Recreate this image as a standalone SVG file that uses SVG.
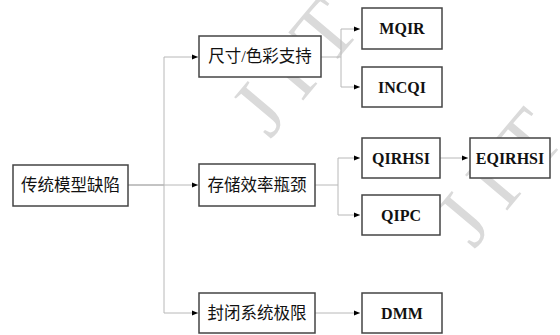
<svg xmlns="http://www.w3.org/2000/svg" width="560" height="335" viewBox="0 0 560 335">
<defs>
<marker id="ah" markerUnits="userSpaceOnUse" markerWidth="6" markerHeight="6" refX="6" refY="3" orient="auto">
<path d="M0,0.5 L6,3 L0,5.5 Z" fill="#000"/>
</marker>
<style>
.box{fill:#fff;stroke:#444;stroke-width:1.5}
.zh{font-family:"Liberation Serif","Noto Sans CJK SC",serif;font-size:16.5px;fill:#111;text-anchor:middle;dominant-baseline:central}
.en{font-family:"Liberation Serif",serif;font-weight:bold;font-size:16px;fill:#111;text-anchor:middle;dominant-baseline:central}
.ln{fill:none;stroke:#b8b8b8;stroke-width:1}
.ar{fill:none;stroke:#b8b8b8;stroke-width:1;marker-end:url(#ah)}
.wm{font-family:"Liberation Serif",serif;font-size:84px;fill:#dadada;letter-spacing:16px}
</style>
</defs>
<rect width="560" height="335" fill="#fff"/>
<g id="watermark">
<text class="wm" transform="translate(270,140) rotate(-50)">JIT</text>
<text class="wm" transform="translate(474,250) rotate(-50)">JIT</text>
</g>
<g id="connectors">
<path class="ln" d="M128,185 H164" style="stroke:#888"/>
<path class="ln" d="M164,57 V313"/>
<path class="ar" d="M164,57 H198"/>
<path class="ar" d="M164,185 H198"/>
<path class="ar" d="M164,313 H198"/>
<path class="ln" d="M321,57 H341 M341,29 V87"/>
<path class="ar" d="M341,29 H360"/>
<path class="ar" d="M341,87 H360"/>
<path class="ln" d="M315,185 H338 M338,158 V215"/>
<path class="ar" d="M338,158 H360"/>
<path class="ar" d="M338,215 H360"/>
<path class="ar" d="M440,158 H468"/>
<path class="ar" d="M315,313 H360"/>
</g>
<g id="root"><rect class="box" x="13" y="165" width="115" height="41"/><text class="zh" x="70.5" y="185.5">传统模型缺陷</text></g>
<g id="n_size"><rect class="box" x="199" y="36" width="122" height="41"/><text class="zh" x="260" y="56.5">尺寸/色彩支持</text></g>
<g id="n_store"><rect class="box" x="199" y="164" width="116" height="42"/><text class="zh" x="257" y="185">存储效率瓶颈</text></g>
<g id="n_closed"><rect class="box" x="199" y="293" width="116" height="40"/><text class="zh" x="257" y="313">封闭系统极限</text></g>
<g id="n_mqir"><rect class="box" x="362" y="8" width="80" height="41"/><text class="en" x="402" y="28.5">MQIR</text></g>
<g id="n_incqi"><rect class="box" x="362" y="67" width="80" height="40"/><text class="en" x="402" y="87">INCQI</text></g>
<g id="n_qirhsi"><rect class="box" x="362" y="138" width="78" height="40"/><text class="en" x="401" y="158">QIRHSI</text></g>
<g id="n_qipc"><rect class="box" x="362" y="195" width="78" height="40"/><text class="en" x="401" y="215">QIPC</text></g>
<g id="n_eqirhsi"><rect class="box" x="470" y="138" width="80" height="40"/><text class="en" x="510" y="158">EQIRHSI</text></g>
<g id="n_dmm"><rect class="box" x="362" y="293" width="80" height="40"/><text class="en" x="402" y="313">DMM</text></g>
</svg>
